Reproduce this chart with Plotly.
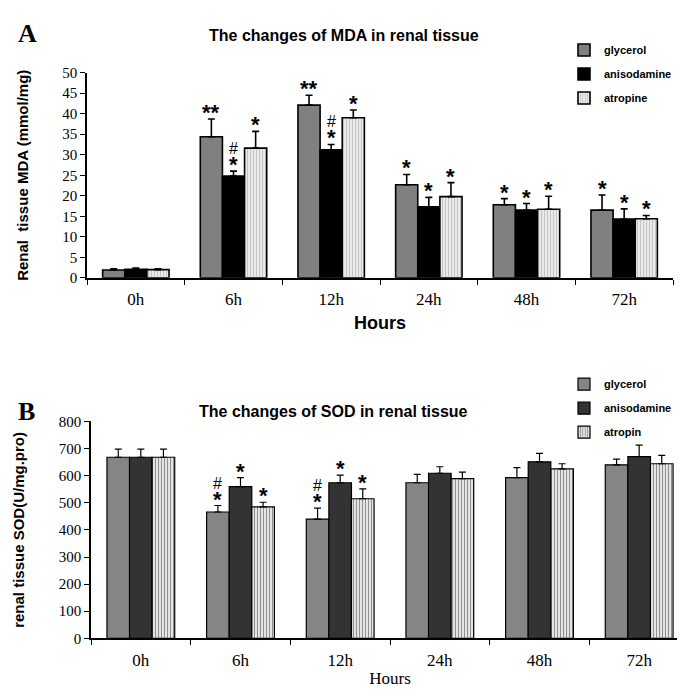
import plotly.graph_objects as go

hours = ["0h", "6h", "12h", "24h", "48h", "72h"]

# Panel A: MDA (mmol/mg)
mda_names = ["glycerol", "anisodamine", "atropine"]
mda_glycerol = [1.9, 34.4, 42.1, 22.7, 17.8, 16.5]
mda_glycerol_err = [0.3, 4.3, 2.4, 2.5, 1.5, 3.7]
mda_aniso = [2.1, 24.8, 31.2, 17.3, 16.5, 14.3]
mda_aniso_err = [0.3, 1.2, 1.3, 2.3, 1.6, 2.5]
mda_atropine = [2.0, 31.6, 39.0, 19.8, 16.7, 14.4]
mda_atropine_err = [0.2, 4.1, 1.9, 3.4, 3.2, 0.8]
mda_sig_glycerol = ["", "**", "**", "*", "*", "*"]
mda_sig_aniso = ["", "#*", "#*", "*", "*", "*"]
mda_sig_atropine = ["", "*", "*", "*", "*", "*"]

# Panel B: SOD (U/mg.pro)
sod_names = ["glycerol", "anisodamine", "atropin"]
sod_glycerol = [668, 466, 440, 574, 593, 640]
sod_glycerol_err = [30, 24, 40, 31, 37, 21]
sod_aniso = [668, 560, 574, 609, 651, 670]
sod_aniso_err = [30, 33, 28, 24, 31, 43]
sod_atropine = [668, 485, 515, 589, 625, 644]
sod_atropine_err = [30, 17, 36, 24, 19, 31]
sod_sig_glycerol = ["", "#*", "#*", "", "", ""]
sod_sig_aniso = ["", "*", "*", "", "", ""]
sod_sig_atropine = ["", "*", "*", "", "", ""]

W, H = 685, 696
BARGAP = 0.32
xA = [79 / W, 665 / W]
yA = [1 - 268 / H, 1 - 58 / H]
xB = [83 / W, 681 / W]
yB = [1 - 637 / H, 1 - 415 / H]

fig = go.Figure()

def add_group(names, vals, errs, styles, xa, ya, legend, lw, ew, tag):
    for name, v, e, st in zip(names, vals, errs, styles):
        marker = dict(color=st["color"], line=dict(color="black", width=lw))
        if "pattern" in st:
            marker["pattern"] = st["pattern"]
        fig.add_trace(go.Bar(
            x=hours, y=v, name=name, xaxis=xa, yaxis=ya, legend=legend,
            legendgroup=tag + name,
            marker=marker,
            error_y=dict(type="data", array=e, arrayminus=[0] * len(e), symmetric=False,
                         color="black", thickness=ew, width=3.5),
        ))

stylesA = [
    dict(color="#808080"),
    dict(color="#000000"),
    dict(color="#d8d8d8", pattern=dict(shape="|", fgcolor="#9a9a9a", bgcolor="#f0f0f0", size=3, solidity=0.45)),
]
stylesB = [
    dict(color="#858585"),
    dict(color="#333333"),
    dict(color="#ffffff", pattern=dict(shape="|", fgcolor="#222222", bgcolor="#ffffff", size=3, solidity=0.5)),
]

add_group(mda_names, [mda_glycerol, mda_aniso, mda_atropine],
          [mda_glycerol_err, mda_aniso_err, mda_atropine_err], stylesA, "x", "y", "legend", 1.6, 1.6, "A")
add_group(sod_names, [sod_glycerol, sod_aniso, sod_atropine],
          [sod_glycerol_err, sod_aniso_err, sod_atropine_err], stylesB, "x2", "y2", "legend2", 1.2, 1.2, "B")

annotations = []
sigfont = dict(family="Liberation Sans, Arial", size=22, color="black")

def add_sig(marks_list, vals_list, errs_list, xref, yref, dom):
    cat_px = (dom[1] - dom[0]) * W / len(hours)
    bar_px = cat_px * (1 - BARGAP) / 3
    for k, (marks, vals, errs) in enumerate(zip(marks_list, vals_list, errs_list)):
        for i, m in enumerate(marks):
            if not m:
                continue
            top = vals[i] + errs[i]
            star = m.replace("#", "")
            annotations.append(dict(
                x=hours[i], y=top, xref=xref, yref=yref,
                text="<b>" + star + "</b>", showarrow=False, xanchor="center", yanchor="bottom",
                xshift=(k - 1) * bar_px, yshift=-8, font=sigfont,
            ))
            if "#" in m:
                annotations.append(dict(
                    x=hours[i], y=top, xref=xref, yref=yref,
                    text="#", showarrow=False, xanchor="center", yanchor="bottom",
                    xshift=(k - 1) * bar_px, yshift=12,
                    font=dict(family="Liberation Sans, Arial", size=16, color="black"),
                ))

add_sig([mda_sig_glycerol, mda_sig_aniso, mda_sig_atropine],
        [mda_glycerol, mda_aniso, mda_atropine],
        [mda_glycerol_err, mda_aniso_err, mda_atropine_err], "x", "y", xA)
add_sig([sod_sig_glycerol, sod_sig_aniso, sod_sig_atropine],
        [sod_glycerol, sod_aniso, sod_atropine],
        [sod_glycerol_err, sod_aniso_err, sod_atropine_err], "x2", "y2", xB)

annotations += [
    dict(text="<b>A</b>", x=8 / W, y=1 - 18 / H, xref="paper", yref="paper", showarrow=False,
         xanchor="left", yanchor="middle", font=dict(family="Liberation Serif", size=26, color="black")),
    dict(text="<b>B</b>", x=8 / W, y=1 - 405 / H, xref="paper", yref="paper", showarrow=False,
         xanchor="left", yanchor="middle", font=dict(family="Liberation Serif", size=26, color="black")),
    dict(text="<b>The changes of MDA in renal tissue</b>", x=336 / W, y=1 - 20 / H, xref="paper", yref="paper",
         showarrow=False, xanchor="center", yanchor="middle",
         font=dict(family="Liberation Sans", size=16, color="black")),
    dict(text="<b>The changes of SOD in renal tissue</b>", x=325 / W, y=1 - 405 / H, xref="paper", yref="paper",
         showarrow=False, xanchor="center", yanchor="middle",
         font=dict(family="Liberation Sans", size=16, color="black")),
]

tickfont = dict(family="Liberation Serif", size=15, color="black")
catfont = dict(family="Liberation Serif", size=17, color="black")

common_x = dict(type="category", showline=True, linecolor="black", linewidth=1.5, ticks="outside",
                tickson="boundaries", ticklen=5, tickcolor="black", tickfont=catfont, showgrid=False,
                zeroline=False, ticklabelstandoff=5)
common_y = dict(showline=True, linecolor="black", linewidth=1.5, ticks="outside", ticklen=5,
                tickcolor="black", tickfont=tickfont, showgrid=False, zeroline=False)

legfont = dict(family="Liberation Sans", size=11, color="black", weight="bold")

fig.update_layout(
    width=W, height=H, margin=dict(l=0, r=0, t=0, b=0),
    paper_bgcolor="white", plot_bgcolor="white",
    barmode="group", bargap=BARGAP, bargroupgap=0,
    xaxis=dict(common_x, domain=xA, anchor="y",
               title=dict(text="<b>Hours</b>", font=dict(family="Liberation Sans", size=18, color="black"), standoff=8)),
    yaxis=dict(common_y, domain=yA, anchor="x", range=[0, 50], dtick=5,
               title=dict(text="<b>Renal  tissue MDA (mmol/mg)</b>", font=dict(family="Liberation Sans", size=15, color="black"), standoff=30)),
    xaxis2=dict(common_x, domain=xB, anchor="y2",
                title=dict(text="Hours", font=dict(family="Liberation Serif", size=17, color="black"), standoff=4)),
    yaxis2=dict(common_y, domain=yB, anchor="x2", range=[0, 800], dtick=100,
                title=dict(text="<b>renal tissue SOD(U/mg.pro)</b>", font=dict(family="Liberation Sans", size=15, color="black"), standoff=30)),
    legend=dict(x=556 / W, y=1 - 20 / H, xanchor="left", yanchor="top", bgcolor="rgba(0,0,0,0)",
                font=legfont, itemwidth=30, tracegroupgap=5),
    legend2=dict(x=556 / W, y=1 - 362 / H, xanchor="left", yanchor="top", bgcolor="rgba(0,0,0,0)",
                 font=legfont, itemwidth=30, tracegroupgap=5),
    annotations=annotations,
    showlegend=True,
)

fig.write_html("out.html")
